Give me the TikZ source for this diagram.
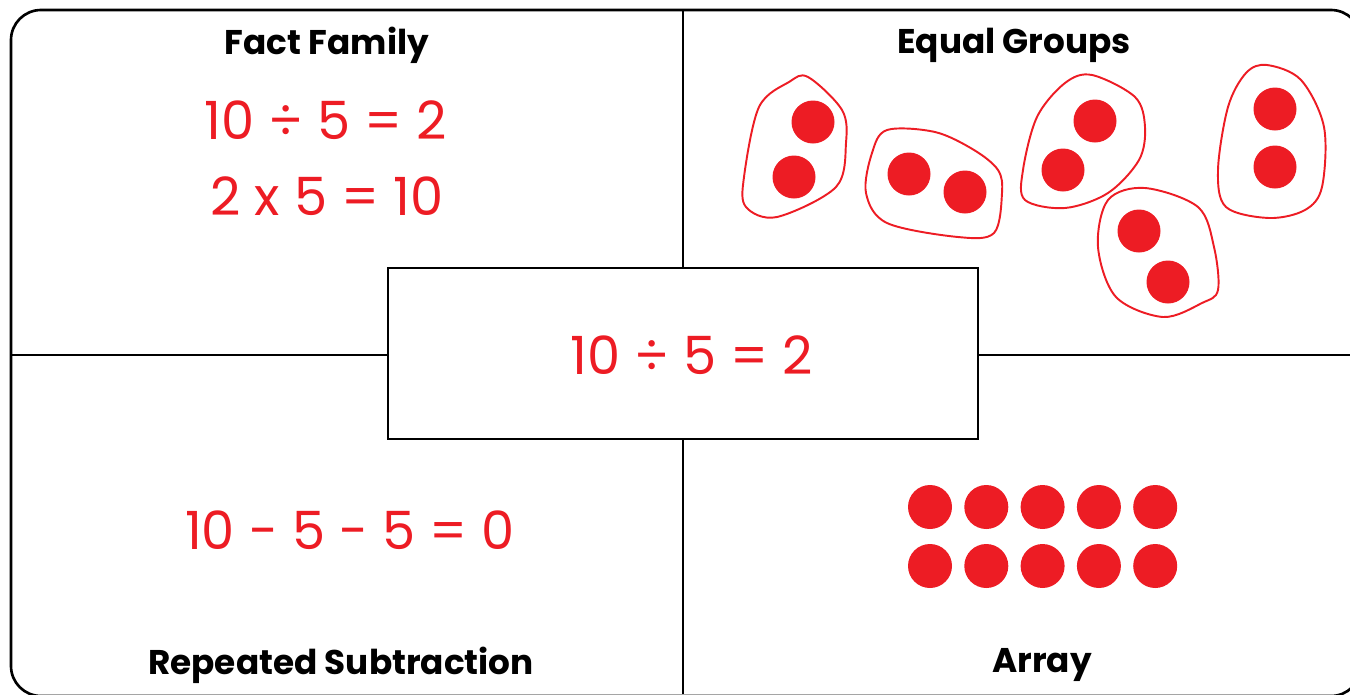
\documentclass[tikz,border=0pt]{standalone}
\usepackage{fontspec}
\setmainfont{Poppins}
\usetikzlibrary{positioning}
\definecolor{mathred}{HTML}{ED1C24}

\begin{document}
\begin{tikzpicture}[
  x=0.02cm, y=-0.02cm,
  frame/.style={
    draw=black,
    line width=1.5pt
  },
  title/.style={
    font=\fontsize{19.5}{23}\selectfont\bfseries
  },
  sum/.style={
    text=mathred,
    font=\fontsize{30}{34}\selectfont
  },
  blob/.style={
    draw=mathred,
    line width=1.1pt
  },
  dot/.style={
    fill=mathred
  }
]

\useasboundingbox (0,0) rectangle (1350,694);

\draw[frame, rounded corners=0.6cm] (11,10) rectangle (1361,696);
\draw[frame] (683,10) -- (683,694);
\draw[frame] (11,355) -- (1350,355);
\node[frame, fill=white, minimum width=11.8cm, minimum height=3.42cm] (main) at (683,353.5) {};
\node[sum] (mainsum) at (692,355) {10 ÷ 5 = 2};

\node[title] (fact)   at (327,45)  {Fact Family};
\node[title] (groups) at (1014,45) {Equal Groups};
\node[title] (sub)    at (341,665) {Repeated Subtraction};
\node[title] (array)  at (1042,665) {Array};

\node[sum] (div) at (326,120) {10 ÷ 5 = 2};
\node[sum] (mul) at (327,196) {2 x 5 = 10};
\node[sum] (rep) at (350,530) {10 - 5 - 5 = 0};

\draw[blob] plot[smooth cycle, tension=0.55] coordinates {
  (808,77) (842,110) (846,143) (836,187) (777,217) (746,207) (744,177) (759,107) (789,82)};
\draw[blob] plot[smooth cycle, tension=0.55] coordinates {
  (887,130) (935,132) (974,150) (998,170) (1002,193) (994,233) (958,237) (887,223) (866,193) (872,153)};
\draw[blob] plot[smooth cycle, tension=0.55] coordinates {
  (1092,75) (1135,97) (1145,127) (1139,160) (1108,193) (1065,208) (1025,200) (1023,170) (1037,117) (1065,83)};
\draw[blob] plot[smooth cycle, tension=0.55] coordinates {
  (1145,188) (1198,207) (1214,247) (1218,290) (1202,303) (1163,317) (1116,297) (1098,247) (1108,200)};
\draw[blob] plot[smooth cycle, tension=0.55] coordinates {
  (1267,65) (1301,80) (1324,127) (1322,187) (1305,210) (1269,218) (1226,207) (1218,170) (1228,107) (1246,73)};

\foreach \px/\py in {813/122, 794/177, 909/174, 965/192, 1095/121, 1063/170,
                     1139/231, 1168/282, 1275/109, 1275/167}
  \fill[dot] (\px,\py) circle[radius=21.5];

\foreach \col in {0,...,4}
  \foreach \row in {0,1}
    \fill[dot] ({930+56.3*\col},{507+59*\row}) circle[radius=22];

\end{tikzpicture}
\end{document}
